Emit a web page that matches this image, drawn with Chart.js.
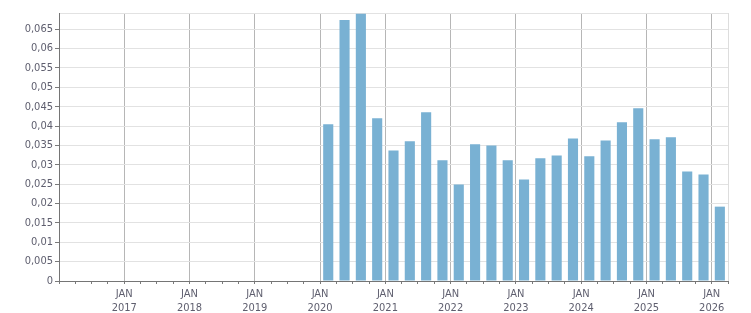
<!DOCTYPE html>
<html>
<head>
<meta charset="utf-8">
<script src="https://cdn.jsdelivr.net/npm/chart.js@4"></script>
<style>
  html, body { margin: 0; padding: 0; background: #fff; }
  #chart { display: block; }
</style>
</head>
<body>
<canvas id="chart" width="751" height="313"></canvas>
<script>
  'use strict';

  // quarterly values, Q1 2020 .. Q1 2026
  const quarters = [
    '2020-Q1', '2020-Q2', '2020-Q3', '2020-Q4',
    '2021-Q1', '2021-Q2', '2021-Q3', '2021-Q4',
    '2022-Q1', '2022-Q2', '2022-Q3', '2022-Q4',
    '2023-Q1', '2023-Q2', '2023-Q3', '2023-Q4',
    '2024-Q1', '2024-Q2', '2024-Q3', '2024-Q4',
    '2025-Q1', '2025-Q2', '2025-Q3', '2025-Q4',
    '2026-Q1',
  ];
  const values = [
    0.0405, 0.0674, 0.0690, 0.0420,
    0.0337, 0.0361, 0.0436, 0.0312,
    0.0249, 0.0353, 0.0350, 0.0312,
    0.0262, 0.0317, 0.0324, 0.0368,
    0.0322, 0.0363, 0.0410, 0.0446,
    0.0366, 0.0371, 0.0283, 0.0275,
    0.0192,
  ];

  const yearLabels = [2017, 2018, 2019, 2020, 2021, 2022, 2023, 2024, 2025, 2026];
  const yTicks = [0, 0.005, 0.01, 0.015, 0.02, 0.025, 0.03, 0.035, 0.04, 0.045, 0.05, 0.055, 0.06, 0.065];
  const xMin = 2016;
  const xMax = 2026.25;
  const yMax = 0.0692;

  const textColor = '#5e5e6e';
  const font = { family: 'Tahoma, "DejaVu Sans Condensed", "Liberation Sans", sans-serif', size: 11 };

  // quarter -> position on the year axis (middle of the quarter)
  const toX = (q) => {
    const [y, n] = q.split('-Q');
    return Number(y) + (Number(n) - 1) * 0.25 + 0.125;
  };
  const points = quarters.map((q, i) => ({ x: toX(q), y: values[i] }));

  const isYear = (v) => Math.abs(v - Math.round(v)) < 1e-6;
  const fmt = (v) => v.toLocaleString('de-DE', { maximumFractionDigits: 3 });

  new Chart(document.getElementById('chart'), {
    type: 'bar',
    data: {
      datasets: [
        {
          data: points,
          backgroundColor: '#79b1d3',
          borderWidth: 0,
          barPercentage: 0.62,
          categoryPercentage: 1,
        },
      ],
    },
    options: {
      responsive: false,
      animation: false,
      layout: { padding: { top: 13, right: 23, left: 0, bottom: 0 } },
      plugins: {
        legend: { display: false },
        tooltip: { enabled: false },
      },
      scales: {
        x: {
          type: 'linear',
          min: xMin,
          max: xMax,
          offset: false,
          afterBuildTicks(scale) {
            const t = [];
            for (let v = xMin; v <= xMax + 1e-9; v += 0.25) t.push({ value: v });
            scale.ticks = t;
          },
          afterFit(scale) {
            scale.height = 32;
          },
          ticks: {
            autoSkip: false,
            maxRotation: 0,
            minRotation: 0,
            padding: 4,
            color: textColor,
            font: font,
            callback(v) {
              const y = Math.round(v);
              if (isYear(v) && yearLabels.includes(y)) return ['JAN', String(y)];
              return '';
            },
          },
          grid: {
            offset: false,
            color(ctx) {
              const v = ctx.tick ? ctx.tick.value : 0;
              if (Math.abs(v - xMax) < 1e-6) return '#dddddd';
              if (isYear(v) && v > xMin) return '#b6b6b6';
              return 'rgba(0,0,0,0)';
            },
            lineWidth: 1,
            drawTicks: true,
            tickLength: 3,
            tickColor: '#7a7a7a',
          },
          border: { color: '#757575', width: 1 },
        },
        y: {
          min: 0,
          max: yMax,
          afterBuildTicks(scale) {
            scale.ticks = yTicks.concat([yMax]).map((v) => ({ value: v }));
          },
          afterFit(scale) {
            scale.width = 59;
          },
          ticks: {
            padding: 2,
            color: textColor,
            font: font,
            callback(v) {
              return yTicks.includes(v) ? fmt(v) : '';
            },
          },
          grid: {
            color: '#e2e2e2',
            lineWidth: 1,
            drawTicks: true,
            tickLength: 4,
            tickColor(ctx) {
              return ctx.tick && ctx.tick.value === yMax ? 'rgba(0,0,0,0)' : '#7a7a7a';
            },
          },
          border: { color: '#757575', width: 1 },
        },
      },
    },
  });
</script>
</body>
</html>
